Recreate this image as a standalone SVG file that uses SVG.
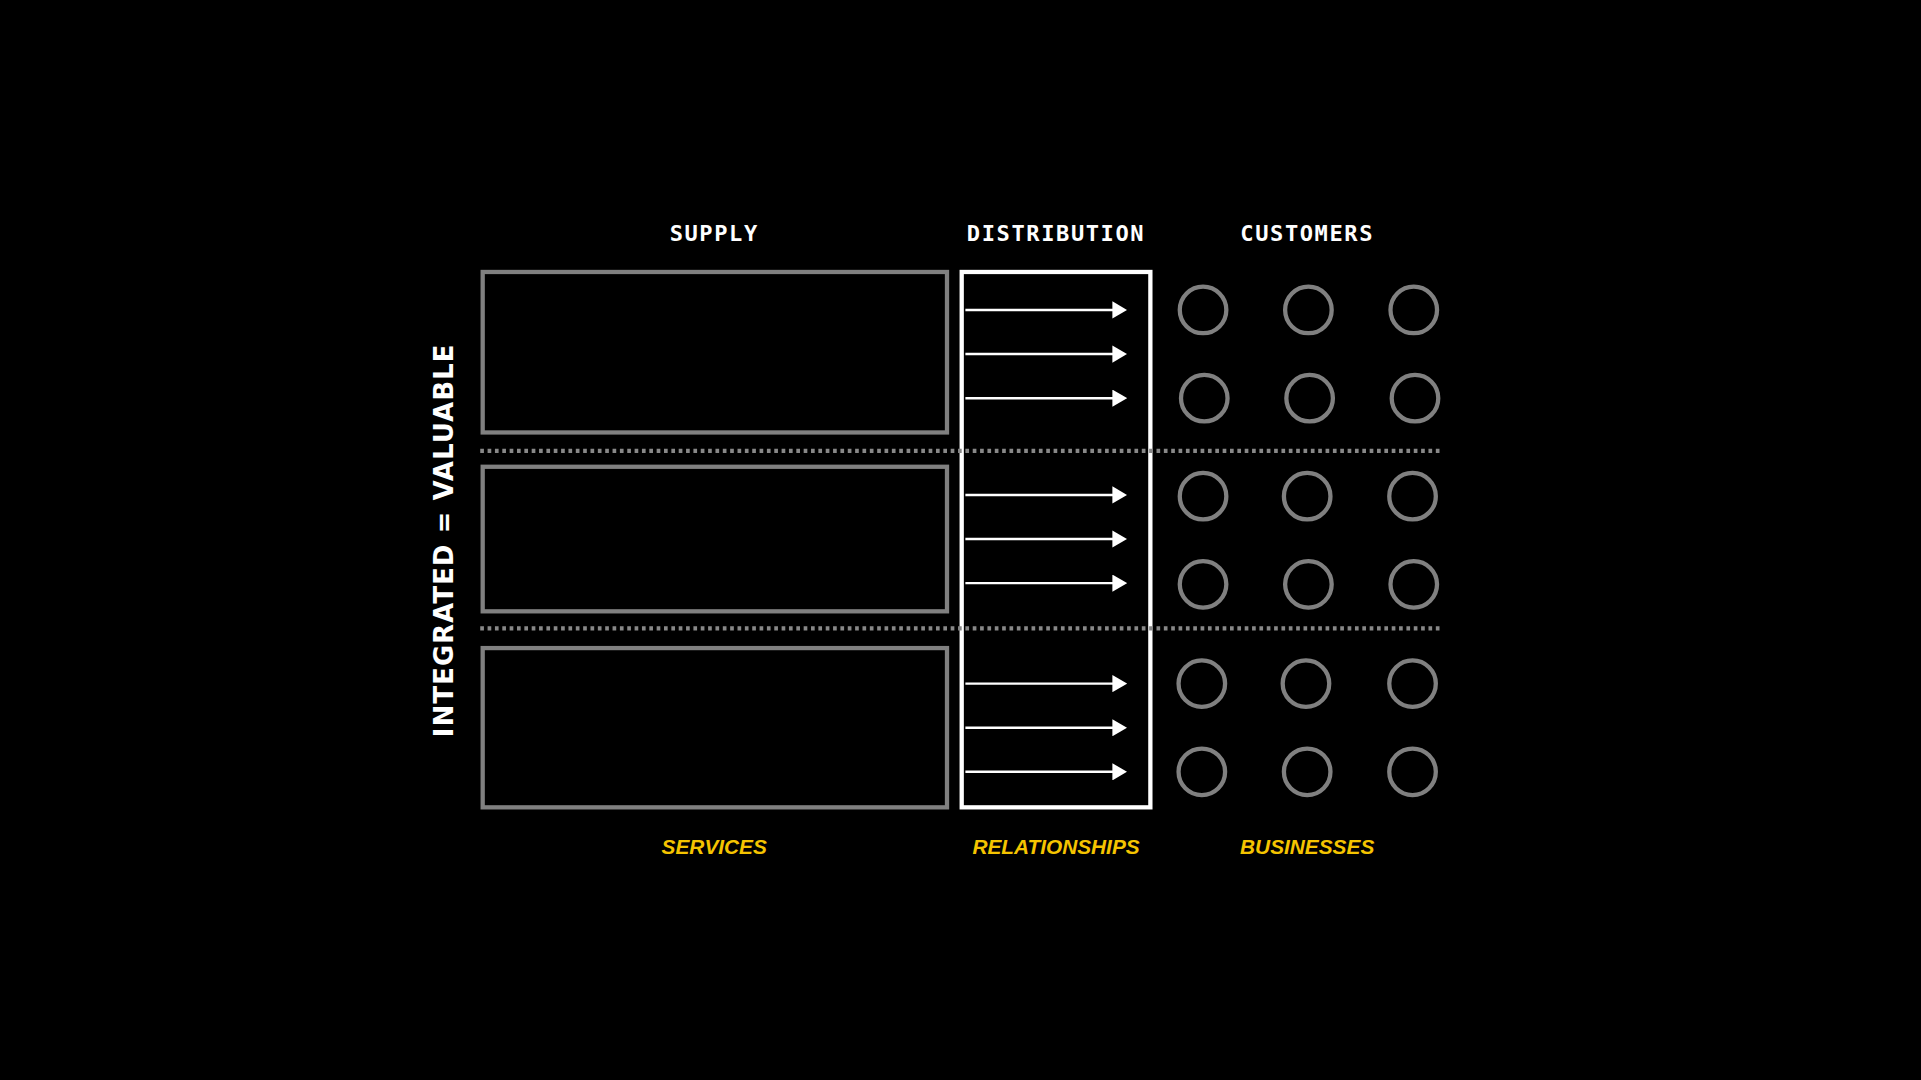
<svg xmlns="http://www.w3.org/2000/svg" width="1921" height="1080" viewBox="0 0 1921 1080">
<style>
.hd{font-family:"DejaVu Sans Mono","Liberation Mono",monospace;font-weight:bold;font-size:18px;fill:#fff;text-anchor:middle;letter-spacing:1.3px}
.yl{font-family:"Liberation Sans",sans-serif;font-weight:bold;font-style:italic;font-size:17px;fill:#f5c400;text-anchor:middle}
.box{fill:none;stroke:#808080;stroke-width:3.5}
.c{fill:none;stroke:#808080;stroke-width:3.5}
.ar{stroke:#fff;stroke-width:2;marker-end:url(#ah)}
.dot{stroke:#888;stroke-width:3.5;stroke-dasharray:3 3}
</style>
<defs>
<marker id="ah" markerWidth="12" markerHeight="14" refX="2" refY="7" orient="auto" markerUnits="userSpaceOnUse"><path d="M0,0 L12,7 L0,14 z" fill="#fff"/></marker></defs>
<rect width="1921" height="1080" fill="#000"/>
<g transform="scale(1.2251)">
<text class="hd" x="583" y="197">SUPPLY</text>
<text class="hd" x="862" y="197">DISTRIBUTION</text>
<text class="hd" x="1067" y="197">CUSTOMERS</text>
<text transform="translate(370,441) rotate(-90)" style="font-family:'DejaVu Sans',sans-serif;font-weight:bold;font-size:21px;fill:#fff;text-anchor:middle;letter-spacing:1px">INTEGRATED = VALUABLE</text>
<g id="supply1"><rect class="box" x="394" y="222" width="379" height="131"/></g>
<g id="supply2"><rect class="box" x="394" y="381" width="379" height="118"/></g>
<g id="supply3"><rect class="box" x="394" y="529" width="379" height="130"/></g>
<g id="distribution"><rect x="785" y="222" width="154" height="437" fill="none" stroke="#fff" stroke-width="3.5"/></g>
<g id="connectors">
<line class="dot" x1="392" y1="368" x2="1176" y2="368"/>
<line class="dot" x1="392" y1="513" x2="1176" y2="513"/>
<line class="ar" x1="788" y1="253" x2="910" y2="253"/>
<line class="ar" x1="788" y1="289" x2="910" y2="289"/>
<line class="ar" x1="788" y1="325" x2="910" y2="325"/>
<line class="ar" x1="788" y1="404" x2="910" y2="404"/>
<line class="ar" x1="788" y1="440" x2="910" y2="440"/>
<line class="ar" x1="788" y1="476" x2="910" y2="476"/>
<line class="ar" x1="788" y1="558" x2="910" y2="558"/>
<line class="ar" x1="788" y1="594" x2="910" y2="594"/>
<line class="ar" x1="788" y1="630" x2="910" y2="630"/>
</g>
<g id="customers">
<circle class="c" cx="982" cy="253" r="19"/><circle class="c" cx="1068" cy="253" r="19"/><circle class="c" cx="1154" cy="253" r="19"/>
<circle class="c" cx="983" cy="325" r="19"/><circle class="c" cx="1069" cy="325" r="19"/><circle class="c" cx="1155" cy="325" r="19"/>
<circle class="c" cx="982" cy="405" r="19"/><circle class="c" cx="1067" cy="405" r="19"/><circle class="c" cx="1153" cy="405" r="19"/>
<circle class="c" cx="982" cy="477" r="19"/><circle class="c" cx="1068" cy="477" r="19"/><circle class="c" cx="1154" cy="477" r="19"/>
<circle class="c" cx="981" cy="558" r="19"/><circle class="c" cx="1066" cy="558" r="19"/><circle class="c" cx="1153" cy="558" r="19"/>
<circle class="c" cx="981" cy="630" r="19"/><circle class="c" cx="1067" cy="630" r="19"/><circle class="c" cx="1153" cy="630" r="19"/>
</g>
<text class="yl" x="583" y="697">SERVICES</text>
<text class="yl" x="862" y="697">RELATIONSHIPS</text>
<text class="yl" x="1067" y="697">BUSINESSES</text>
</g>
</svg>
